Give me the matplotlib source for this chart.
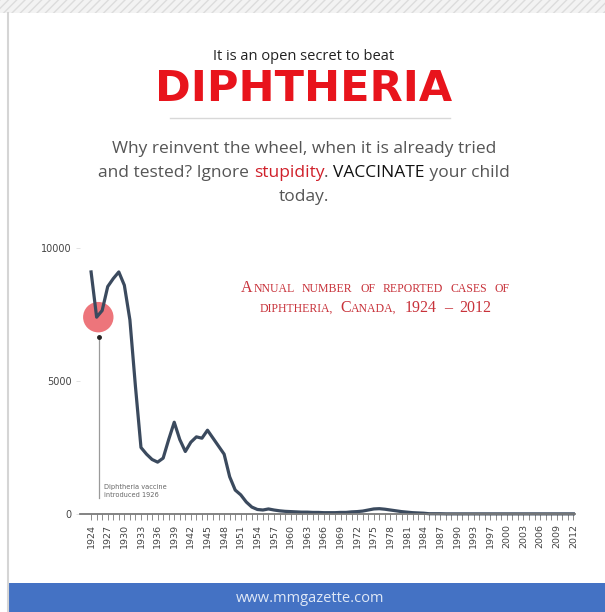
import matplotlib
matplotlib.use('Agg')
import matplotlib.pyplot as plt
from matplotlib.patches import Rectangle
from matplotlib.lines import Line2D

# data (1995 missing in source table)
years = list(range(1924, 1995)) + list(range(1996, 2013))
cases = [9100, 7400, 7650, 8550, 8850, 9100, 8600, 7300, 4800, 2500,
         2250, 2050, 1950, 2100, 2800, 3450, 2800, 2350, 2700, 2900,
         2850, 3150, 2850, 2550, 2250, 1400, 900, 720, 450, 260,
         170, 150, 190, 150, 120, 100, 90, 80, 70, 70,
         60, 60, 50, 50, 50, 60, 60, 80, 90, 110,
         150, 190, 200, 180, 150, 120, 90, 70, 50, 40,
         30, 10, 10, 10, 5, 5, 5, 5, 5, 5,
         5,
         5, 5, 5, 5, 5, 5, 5, 5, 5, 5,
         5, 5, 5, 5, 5, 5, 5]
ytick_vals = [0, 5000, 10000]
ytick_labels = ['0', '5000', '10000']

W, H = 605, 612
fig = plt.figure(figsize=(W / 100, H / 100), dpi=100)
fig.patch.set_facecolor('white')


def fx(px):
    return px / W


def fy(py):
    return 1 - py / H


# frame decorations
fig.patches.append(Rectangle((0, fy(13)), 1, 13 / H, transform=fig.transFigure,
                             facecolor='#f3f3f3', edgecolor='#dcdcdc', hatch='////', lw=0))
fig.lines.append(Line2D([fx(8), fx(8)], [0, fy(13)], transform=fig.transFigure,
                        color='#d5d5d5', lw=1.5))
fig.patches.append(Rectangle((fx(8), 0), 1, 29 / H, transform=fig.transFigure,
                             facecolor='#4472c4', edgecolor='none'))
fig.text(fx(310), fy(598), 'www.mmgazette.com', ha='center', va='center',
         fontsize=10.5, color='#dfe8f6', family='Open Sans')

# header
fig.text(fx(304), fy(57), 'It is an open secret to beat', ha='center', va='center',
         fontsize=10.5, color='#222222', family='Open Sans')
fig.text(fx(304), fy(89), 'DIPHTHERIA', ha='center', va='center',
         fontsize=31, color='#e8141c', family='DejaVu Sans', weight='bold')
fig.lines.append(Line2D([fx(170), fx(450)], [fy(118), fy(118)], transform=fig.transFigure,
                        color='#d8d8d8', lw=1))

renderer = fig.canvas.get_renderer()


def width_px(s, **kw):
    t = fig.text(0, 0, s, **kw)
    w = t.get_window_extent(renderer).width
    t.remove()
    return w


def mixed_line(pieces, xc, py, **kw):
    # pieces: (text, color); same font for all pieces
    full = ''.join(p[0] for p in pieces)
    total = width_px(full, **kw)
    bar = width_px('|', **kw)
    x0 = xc - total / 2
    prefix = ''
    for txt, col in pieces:
        off = width_px(prefix + '|', **kw) - bar if prefix else 0
        fig.text(fx(x0 + off), fy(py), txt, ha='left', va='baseline', color=col, **kw)
        prefix += txt


sub_kw = dict(fontsize=12.5, family='Open Sans')
grey = '#555555'
mixed_line([('Why reinvent the wheel, when it is already tried', grey)], 304, 153, **sub_kw)
mixed_line([('and tested? Ignore ', grey), ('stupidity', '#d0202a'), ('. ', grey),
            ('VACCINATE', '#111111'), (' your child', grey)], 304, 177, **sub_kw)
mixed_line([('today.', grey)], 304, 201, **sub_kw)


def small_caps(words, xc, py, big=11.5, small=8.5, gap=7, color='#c8323a'):
    # words: list of lists of (text, is_big)
    fam = 'Liberation Serif'
    widths = []
    for wd in words:
        widths.append([width_px(t, fontsize=big if b else small, family=fam) for t, b in wd])
    total = sum(sum(w) for w in widths) + gap * (len(words) - 1)
    x = xc - total / 2
    for wd, ws in zip(words, widths):
        for (t, b), w in zip(wd, ws):
            fig.text(fx(x), fy(py), t, ha='left', va='baseline', fontsize=big if b else small,
                     family=fam, color=color)
            x += w + 0.5
        x += gap


small_caps([[('A', 1), ('NNUAL', 0)], [('NUMBER', 0)], [('OF', 0)], [('REPORTED', 0)],
            [('CASES', 0)], [('OF', 0)]], 374, 292)
small_caps([[('DIPHTHERIA,', 0)], [('C', 1), ('ANADA,', 0)], [('1924', 1)], [('\u2013', 1)],
            [('2012', 1)]], 374, 312)

# chart
ax = fig.add_axes([fx(80), fy(514), fx(575) - fx(80), fy(248) - fy(514)])
pos = list(range(len(years)))
ax.plot(pos, cases, color='#3b4a5e', lw=2.3, solid_joinstyle='round', clip_on=False)
ax.set_xlim(-2, 87.3)
ax.set_ylim(0, 10000)
ax.set_facecolor('none')
for s in ['top', 'right', 'left']:
    ax.spines[s].set_visible(False)
ax.spines['bottom'].set_color('#7a7a7a')
ax.spines['bottom'].set_linewidth(1.3)
ax.set_xticks(pos)
ax.set_xticklabels([str(y) if i % 3 == 0 else '' for i, y in enumerate(years)],
                   rotation=90, fontsize=6.8, color='#444444')
ax.tick_params(axis='x', length=4, width=0.7, color='#8a8a8a', pad=3)
ax.set_yticks(ytick_vals)
ax.set_yticklabels(ytick_labels, fontsize=7, color='#444444')
ax.tick_params(axis='y', length=3, width=0.6, color='#dddddd', pad=3)

# vaccine annotation
ax.scatter([1.3], [7400], s=480, color='#e8474f', alpha=0.75, edgecolors='none',
           zorder=1, clip_on=False)
ax.plot([1.45, 1.45], [600, 6650], color='#9a9a9a', lw=0.9)
ax.plot([1.45], [6650], 'o', color='#222222', ms=2.5)
ax.text(2.3, 620, 'Diphtheria vaccine\nintroduced 1926', fontsize=4.8, color='#666666',
        ha='left', va='bottom', linespacing=1.4)

fig.savefig('out.png', dpi=100)
